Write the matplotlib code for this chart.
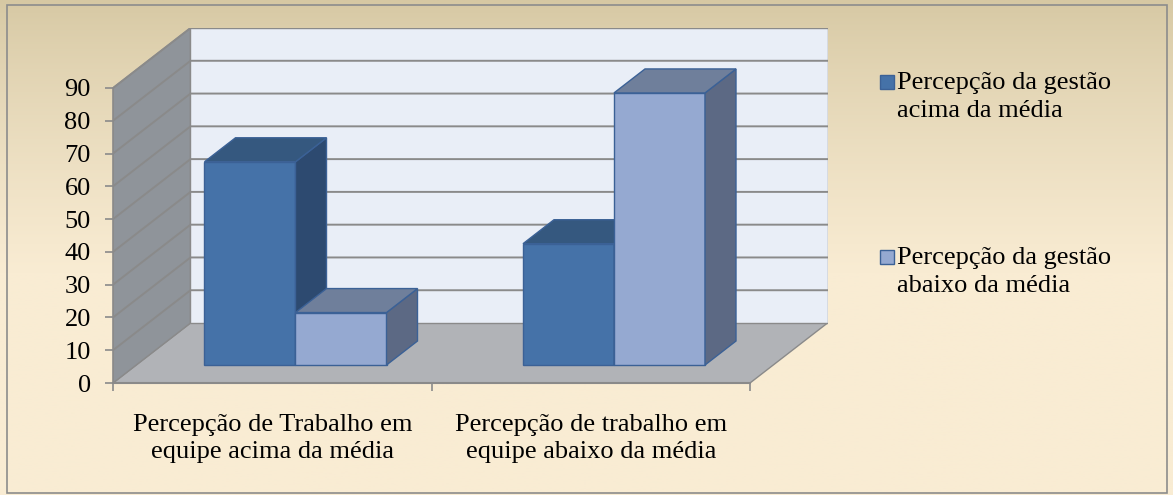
import numpy as np
import matplotlib.pyplot as plt
from matplotlib.patches import Polygon, Rectangle

plt.rcParams['font.family'] = ['Liberation Serif', 'DejaVu Serif']

# dados
categorias = ['Percepção de Trabalho em\nequipe acima da média',
              'Percepção de trabalho em\nequipe abaixo da média']
series = ['Percepção da gestão\nacima da média',
          'Percepção da gestão\nabaixo da média']
gestao_acima = [62, 37]
gestao_abaixo = [16, 83]
yticks = list(range(0, 100, 10))

cor_frente = ['#4572a8', '#95a9d1']
cor_topo = ['#35587f', '#6f7f9b']
cor_lado = ['#2d4a70', '#5c6984']
cor_borda = '#3b6196'

W, H = 1173, 495
fs = 19
fig = plt.figure(figsize=(W / 100, H / 100), dpi=100)

# fundo em degrade
bg = fig.add_axes([0, 0, 1, 1], zorder=-10)
t = np.linspace(0, 1, 300)[:, None]
f = np.clip(t / 0.55, 0, 1) ** 0.8
c_top = np.array([0xd6, 0xc8, 0xa3]) / 255
c_bot = np.array([0xf9, 0xec, 0xd3]) / 255
img = c_top[None, None, :] * (1 - f[..., None]) + c_bot[None, None, :] * f[..., None]
img = np.repeat(img, 2, axis=1)
bg.imshow(img, aspect='auto', extent=[0, 1, 0, 1])
bg.set_xlim(0, 1)
bg.set_ylim(0, 1)
bg.axis('off')
fig.patches.append(Rectangle((7 / W, 2 / H), 1160 / W, 488 / H, transform=fig.transFigure,
                             fill=False, ec='#8c8c8c', lw=1.2))

# eixo principal (projecao obliqua)
ax = fig.add_axes([113 / W, 112 / H, 714.5 / W, 355 / H])
DX, DY = 0.2433, 18.3          # profundidade total
ymax = yticks[-1]
ax.set_xlim(0, len(categorias) + DX)
ax.set_ylim(0, ymax + DY)
ax.patch.set_visible(False)
for s in ['top', 'right', 'bottom']:
    ax.spines[s].set_visible(False)
ax.spines['left'].set_bounds(0, ymax)
ax.spines['left'].set_color('#8a8a8a')
ax.spines['left'].set_linewidth(1.2)

n = len(categorias)
grid = '#8a8a8a'
# paredes
ax.add_patch(Polygon([(0, 0), (n, 0), (n + DX, DY), (DX, DY)], closed=True,
                     fc='#b1b3b7', ec=grid, lw=1, zorder=1))
ax.add_patch(Polygon([(0, 0), (0, ymax), (DX, ymax + DY), (DX, DY)], closed=True,
                     fc='#8f949a', ec=grid, lw=1, zorder=1))
ax.add_patch(Rectangle((DX, DY), n, ymax, fc='#e9eef7', ec=grid, lw=1, zorder=1))
for v in yticks[1:]:
    ax.plot([0, DX, n + DX], [v, v + DY, v + DY], color=grid, lw=1.4, zorder=2)

ax.set_yticks(yticks)
ax.set_yticklabels([str(v) for v in yticks], fontsize=fs)
ax.tick_params(axis='y', length=6, width=1.2, color=grid, pad=10)
ax.set_xticks(range(n + 1))
ax.set_xticklabels([''] * (n + 1))
ax.tick_params(axis='x', which='major', length=6, width=1.2, color=grid, direction='out')
ax.set_xticks([i + 0.5 for i in range(n)], minor=True)
ax.set_xticklabels(categorias, minor=True, linespacing=1.3)
ax.tick_params(axis='x', which='minor', length=0, pad=22, labelsize=fs)
ax.plot([0, n], [0, 0], color=grid, lw=1.5, zorder=2, clip_on=False)

# barras
w = 1 / 3.5
OX, OY = 0.3 * DX, 0.3 * DY
BX, BY = 0.4 * DX, 0.4 * DY
for k, vals in enumerate([gestao_acima, gestao_abaixo]):
    lefts = [i + 0.5 - w + k * w + OX for i in range(n)]
    ax.bar(lefts, vals, width=w, bottom=OY, align='edge', color=cor_frente[k],
           edgecolor=cor_borda, lw=1, zorder=3 + k)
    for x0, v in zip(lefts, vals):
        x1 = x0 + w
        top = v + OY
        ax.add_patch(Polygon([(x1, OY), (x1, top), (x1 + BX, top + BY), (x1 + BX, OY + BY)],
                             closed=True, fc=cor_lado[k], ec=cor_borda, lw=1, zorder=3 + k))
        ax.add_patch(Polygon([(x0, top), (x1, top), (x1 + BX, top + BY), (x0 + BX, top + BY)],
                             closed=True, fc=cor_topo[k], ec=cor_borda, lw=1, zorder=3 + k))

# legenda
for k, (lab, yc) in enumerate(zip(series, [97, 272])):
    fig.patches.append(Rectangle((880 / W, 1 - (82 + 175 * k + 7) / H), 14 / W, 14 / H,
                                 transform=fig.transFigure, fc=cor_frente[k],
                                 ec=cor_borda, lw=1))
    fig.text(897 / W, 1 - yc / H, lab, fontsize=fs, va='center', ha='left',
             linespacing=1.3)

fig.savefig('out.png', dpi=100)
